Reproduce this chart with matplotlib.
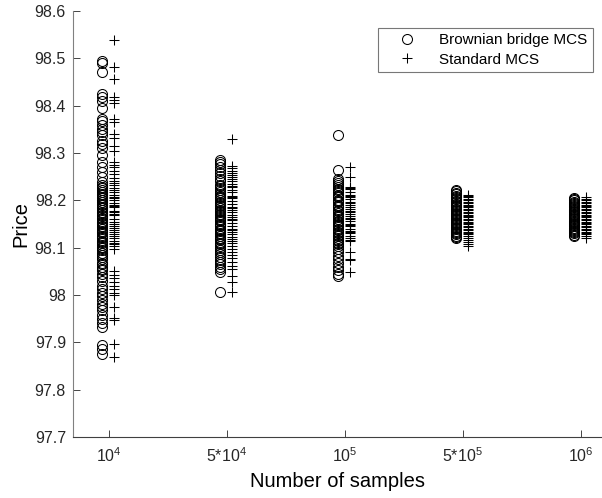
import numpy as np
import matplotlib.pyplot as plt

plt.rcParams["font.family"] = ["Liberation Sans", "DejaVu Sans"]
plt.rcParams["mathtext.fontset"] = "custom"
plt.rcParams["mathtext.rm"] = "Liberation Sans"
plt.rcParams["mathtext.default"] = "regular"

tick_labels = ["10$^{4}$", "5*10$^{4}$", "10$^{5}$", "5*10$^{5}$", "10$^{6}$"]

# Brownian bridge MCS prices, one list per sample size
bb_1e4 = [98.495, 98.49, 98.472, 98.425, 98.418, 98.41, 98.395, 98.372, 98.368,
          98.36, 98.35, 98.345, 98.338, 98.325, 98.318, 98.31, 98.295, 98.28,
          98.27, 98.26, 98.25, 98.238, 98.232, 98.228, 98.222, 98.218, 98.212,
          98.208, 98.204, 98.2, 98.196, 98.19, 98.186, 98.18, 98.176, 98.17,
          98.166, 98.16, 98.155, 98.15, 98.146, 98.14, 98.135, 98.13, 98.125,
          98.12, 98.115, 98.11, 98.105, 98.1, 98.095, 98.088, 98.08, 98.075,
          98.068, 98.06, 98.052, 98.045, 98.038, 98.03, 98.02, 98.012, 98.005,
          97.998, 97.99, 97.982, 97.975, 97.968, 97.958, 97.95, 97.94, 97.932,
          97.895, 97.885, 97.875, 98.226, 98.214, 98.201, 98.193, 98.183,
          98.173, 98.163, 98.152, 98.143, 98.132, 98.122, 98.112, 98.102,
          98.085, 98.065, 98.055]
bb_5e4 = [98.285, 98.281, 98.276, 98.27, 98.263, 98.257, 98.251, 98.246, 98.24,
          98.233, 98.226, 98.221, 98.214, 98.21, 98.204, 98.2, 98.194, 98.19,
          98.184, 98.18, 98.176, 98.171, 98.165, 98.16, 98.156, 98.15, 98.146,
          98.14, 98.135, 98.131, 98.125, 98.12, 98.116, 98.11, 98.104, 98.1,
          98.094, 98.09, 98.086, 98.08, 98.074, 98.07, 98.066, 98.06, 98.055,
          98.048, 98.006, 98.23, 98.217, 98.207, 98.197, 98.187, 98.178,
          98.168, 98.158, 98.148, 98.138, 98.128, 98.118, 98.107]
bb_1e5 = [98.337, 98.265, 98.246, 98.241, 98.236, 98.229, 98.224, 98.218, 98.212,
          98.207, 98.201, 98.196, 98.19, 98.185, 98.18, 98.174, 98.17, 98.165,
          98.16, 98.154, 98.15, 98.145, 98.14, 98.134, 98.13, 98.125, 98.12,
          98.114, 98.109, 98.104, 98.097, 98.09, 98.083, 98.075, 98.068, 98.06,
          98.052, 98.045, 98.04, 98.232, 98.221, 98.209, 98.198, 98.188,
          98.177, 98.167, 98.157, 98.147, 98.137, 98.127, 98.117, 98.107]
bb_5e5 = [98.222, 98.219, 98.216, 98.213, 98.21, 98.207, 98.204, 98.202, 98.199,
          98.196, 98.193, 98.19, 98.188, 98.185, 98.182, 98.18, 98.177, 98.174,
          98.171, 98.169, 98.166, 98.163, 98.16, 98.158, 98.155, 98.152, 98.15,
          98.147, 98.144, 98.141, 98.139, 98.136, 98.133, 98.13, 98.128, 98.125,
          98.122, 98.12]
bb_1e6 = [98.205, 98.202, 98.2, 98.197, 98.195, 98.192, 98.19, 98.187, 98.185,
          98.182, 98.18, 98.177, 98.175, 98.172, 98.17, 98.167, 98.165, 98.162,
          98.16, 98.157, 98.155, 98.152, 98.15, 98.147, 98.145, 98.142, 98.14,
          98.137, 98.135, 98.132, 98.13, 98.127, 98.125]

# Standard MCS prices
std_1e4 = [98.538, 98.482, 98.456, 98.418, 98.412, 98.405, 98.372, 98.365, 98.34,
           98.332, 98.315, 98.305, 98.28, 98.275, 98.27, 98.262, 98.255, 98.248,
           98.24, 98.232, 98.225, 98.218, 98.212, 98.205, 98.2, 98.195, 98.19,
           98.185, 98.178, 98.172, 98.168, 98.16, 98.155, 98.15, 98.145, 98.138,
           98.132, 98.128, 98.12, 98.115, 98.11, 98.104, 98.098, 98.05, 98.042,
           98.035, 98.028, 98.02, 98.012, 98.005, 98.0, 97.975, 97.952, 97.948,
           97.897, 97.87, 98.236, 98.222, 98.208, 98.188, 98.175, 98.142,
           98.124, 98.107]
std_5e4 = [98.33, 98.272, 98.268, 98.262, 98.258, 98.25, 98.245, 98.24, 98.235,
           98.228, 98.222, 98.218, 98.21, 98.204, 98.198, 98.192, 98.186, 98.18,
           98.176, 98.17, 98.164, 98.158, 98.152, 98.145, 98.14, 98.134, 98.128,
           98.122, 98.115, 98.11, 98.104, 98.098, 98.09, 98.084, 98.078, 98.07,
           98.062, 98.055, 98.04, 98.028, 98.006, 98.253, 98.231, 98.207,
           98.183, 98.161, 98.137, 98.118]
std_1e5 = [98.27, 98.25, 98.228, 98.223, 98.218, 98.212, 98.207, 98.202, 98.197,
           98.191, 98.186, 98.181, 98.176, 98.171, 98.166, 98.161, 98.156, 98.15,
           98.145, 98.14, 98.135, 98.13, 98.125, 98.12, 98.115, 98.09, 98.077,
           98.074, 98.048, 98.226, 98.209, 98.194, 98.178, 98.163, 98.147,
           98.132, 98.117]
std_5e5 = [98.212, 98.209, 98.206, 98.203, 98.2, 98.197, 98.194, 98.191, 98.188,
           98.185, 98.182, 98.179, 98.176, 98.173, 98.17, 98.167, 98.164, 98.161,
           98.158, 98.155, 98.152, 98.149, 98.146, 98.143, 98.14, 98.137, 98.134,
           98.131, 98.128, 98.124, 98.12, 98.116, 98.112, 98.108, 98.103]
std_1e6 = [98.206, 98.203, 98.2, 98.197, 98.194, 98.191, 98.188, 98.185, 98.182,
           98.179, 98.176, 98.173, 98.17, 98.167, 98.164, 98.161, 98.158, 98.155,
           98.152, 98.149, 98.146, 98.143, 98.14, 98.137, 98.134, 98.131, 98.128,
           98.124, 98.12]

bb = [bb_1e4, bb_5e4, bb_1e5, bb_5e5, bb_1e6]
std = [std_1e4, std_5e4, std_1e5, std_5e5, std_1e6]

fig = plt.figure(figsize=(6.02, 4.98), dpi=100)
ax = fig.add_axes([0.121, 0.1225, 0.879, 0.8555])

for i, (b, s) in enumerate(zip(bb, std)):
    pos = i + 1
    ax.plot(np.full(len(b), pos - 0.06), b, "o", mfc="none", mec="black",
            ms=7.2, mew=0.75, label="Brownian bridge MCS" if i == 0 else None)
    ax.plot(np.full(len(s), pos + 0.048), s, "+", color="black",
            ms=7, mew=0.75, label="Standard MCS" if i == 0 else None)

ax.set_xlim(0.695, 5.18)
ax.set_ylim(97.7, 98.6)
ax.set_xticks(range(1, 6))
ax.set_xticklabels(tick_labels)
ax.set_yticks(np.arange(97.7, 98.61, 0.1))
ax.set_yticklabels(["97.7", "97.8", "97.9", "98", "98.1", "98.2", "98.3",
                    "98.4", "98.5", "98.6"])
ax.tick_params(direction="in", length=5, width=0.6, labelsize=11.5, colors="#262626")
ax.tick_params(axis="x", pad=7)
ax.tick_params(axis="y", pad=5)

for side in ["top", "right"]:
    ax.spines[side].set_visible(False)
ax.spines["left"].set_color("#808080")
ax.spines["bottom"].set_color("#404040")

ax.set_xlabel("Number of samples", fontsize=14.5, labelpad=5)
ax.set_ylabel("Price", fontsize=14.5, labelpad=3)

leg = ax.legend(loc="upper right", bbox_to_anchor=(593 / 602, 1 - 28 / 498),
                bbox_transform=fig.transFigure, borderaxespad=0, fontsize=11,
                frameon=True, fancybox=False, edgecolor="#555555",
                handlelength=3.2, handletextpad=0.5, borderpad=0.35,
                labelspacing=0.35)
leg.get_frame().set_linewidth(0.8)

fig.savefig("out.png", dpi=100)
